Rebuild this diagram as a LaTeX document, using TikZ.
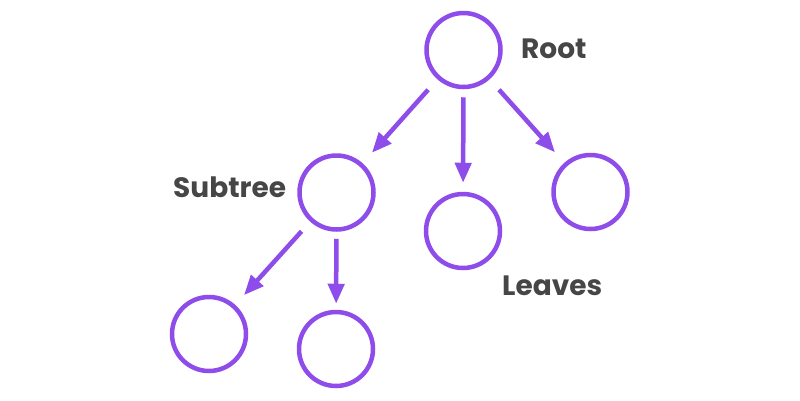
\documentclass[tikz,border=0pt]{standalone}
\usepackage{fontspec}
\setmainfont{Poppins}
\usetikzlibrary{arrows.meta}
\definecolor{tpurple}{RGB}{142,76,234}
\definecolor{tgray}{RGB}{70,70,70}
\begin{document}
\begin{tikzpicture}[x=1pt,y=-1pt,
  tnode/.style={circle,draw=tpurple,line width=4.5pt,minimum size=74pt,inner sep=0pt},
  tlabel/.style={anchor=base west,inner sep=0pt,text=tgray,font=\fontsize{28}{30}\selectfont\bfseries},
  tarrow/.style={draw=tpurple,line width=4.5pt,-{Triangle[length=20pt,width=16pt]}}]
\useasboundingbox[fill=white] (0,0) rectangle (800,400);
\node[tnode] (root) at (463.5,50) {};
\node[tnode] (sub) at (336.5,192.5) {};
\node[tnode] (mid) at (463,231) {};
\node[tnode] (right) at (590.5,192) {};
\node[tnode] (bl) at (209,334) {};
\node[tnode] (bm) at (336,349) {};
\node[tlabel] (lroot) at (521,58) {Root};
\node[tlabel] (lsub) at (173,197) {Subtree};
\node[tlabel] (lleaves) at (502,295) {Leaves};
\draw[tarrow,shorten <=14pt,shorten >=14pt] (root) -- (sub);
\draw[tarrow,shorten <=8pt,shorten >=9pt] (root) -- (mid);
\draw[tarrow,shorten <=14pt,shorten >=14pt] (root) -- (right);
\draw[tarrow,shorten <=13pt,shorten >=13pt] (sub) -- (bl);
\draw[tarrow,shorten <=7pt,shorten >=6pt] (sub) -- (bm);
\end{tikzpicture}
\end{document}
